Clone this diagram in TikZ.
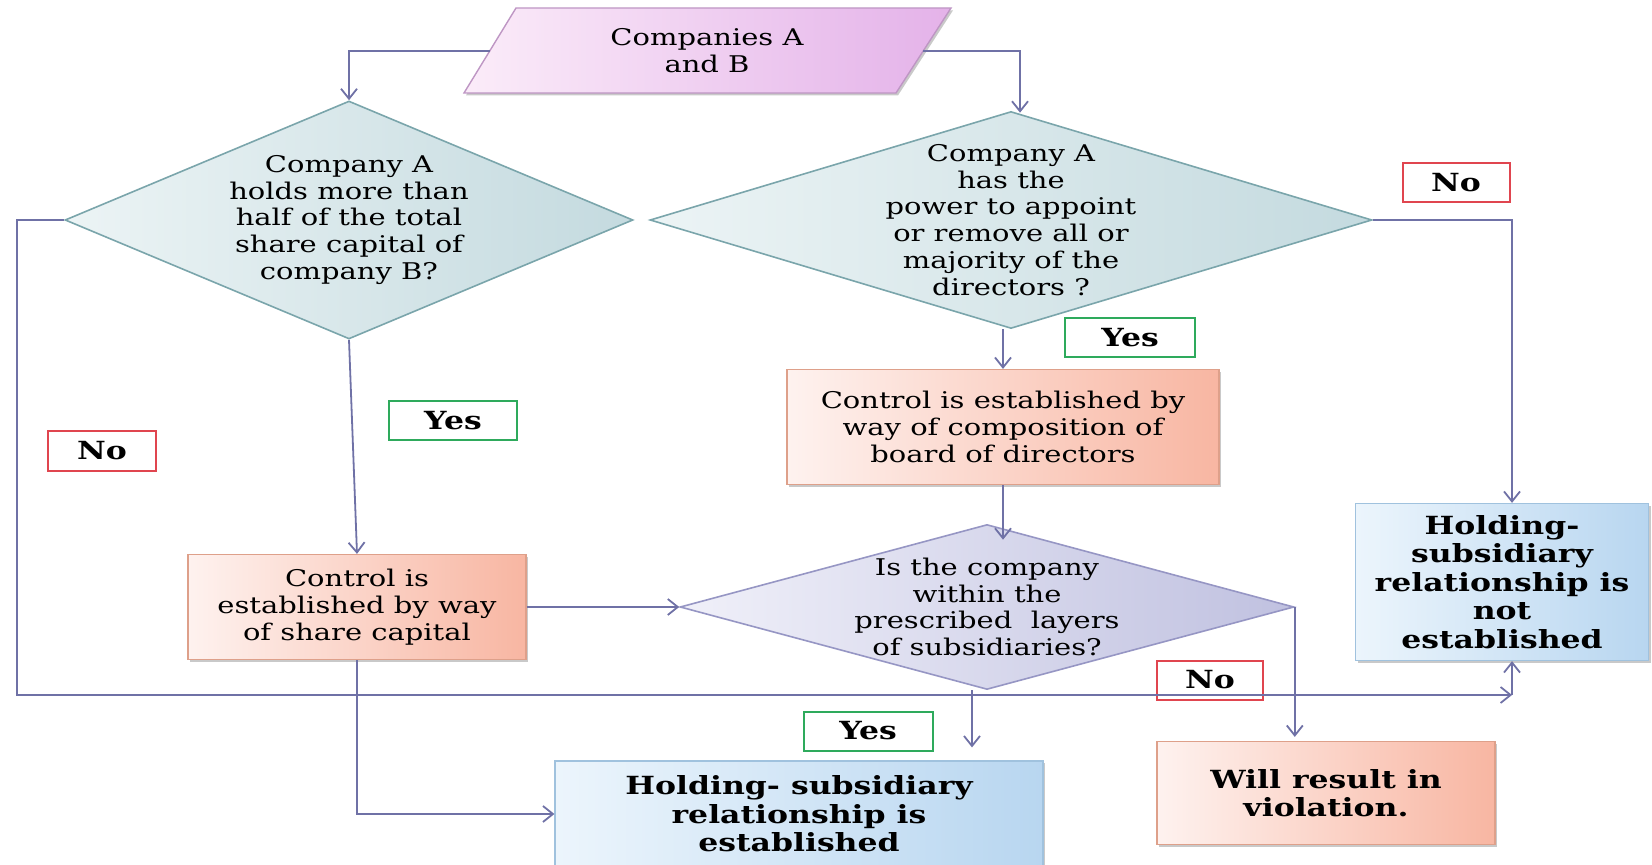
\documentclass[tikz,border=0pt]{standalone}
\usepackage{fontspec}
\setmainfont{DejaVu Serif}[FakeStretch=1.26]
\usetikzlibrary{shapes.geometric,arrows.meta,shadows}

\definecolor{linkc}{RGB}{111,113,166}
\definecolor{parl}{RGB}{251,236,249}
\definecolor{parr}{RGB}{228,178,233}
\definecolor{parb}{RGB}{190,150,196}
\definecolor{qleft}{RGB}{236,244,245}
\definecolor{qright}{RGB}{196,218,223}
\definecolor{qbord}{RGB}{122,165,171}
\definecolor{lleft}{RGB}{240,240,249}
\definecolor{lright}{RGB}{192,193,224}
\definecolor{lbord}{RGB}{150,150,196}
\definecolor{oleft}{RGB}{254,242,239}
\definecolor{oright}{RGB}{248,182,162}
\definecolor{obord}{RGB}{222,160,138}
\definecolor{bleft}{RGB}{236,245,252}
\definecolor{bright}{RGB}{184,214,240}
\definecolor{bbord}{RGB}{160,194,222}
\definecolor{yesc}{RGB}{46,170,92}
\definecolor{noc}{RGB}{224,69,79}

\begin{document}
\begin{tikzpicture}[x=0.5pt,y=-0.5pt,
  txt/.style={font=\fontsize{11.5}{13.4}\selectfont, align=center},
  btxt/.style={font=\fontsize{12.5}{14.3}\selectfont\bfseries, align=center},
  softshadow/.style={drop shadow={shadow xshift=1pt, shadow yshift=-1.2pt, opacity=0.3, fill=black!70}},
  query/.style={diamond, draw=qbord, line width=0.8pt, left color=qleft, right color=qright,
    inner xsep=0pt, inner ysep=-5pt, txt},
  layerq/.style={diamond, draw=lbord, line width=0.8pt, left color=lleft, right color=lright,
    inner xsep=0pt, inner ysep=-5pt, txt},
  orangebox/.style={rectangle, draw=obord, line width=0.6pt, left color=oleft, right color=oright,
    softshadow, inner sep=0pt},
  bluebox/.style={rectangle, draw=bbord, line width=0.6pt, left color=bleft, right color=bright,
    softshadow, inner sep=0pt, btxt},
  yeslbl/.style={rectangle, draw=yesc, line width=1pt, fill=white, inner sep=0pt,
    minimum height=19.5pt, btxt},
  nolbl/.style={rectangle, draw=noc, line width=1pt, fill=white, inner sep=0pt,
    minimum height=19.5pt, btxt},
  arr/.style={draw=linkc, line width=0.9pt, -{Straight Barb[length=5pt,width=8pt]}},
  link/.style={draw=linkc, line width=0.9pt}
]
\useasboundingbox (0,0) rectangle (1652,865);

% start symbol
\path[draw=parb, line width=0.7pt, left color=parl, right color=parr, softshadow]
  (516,8) -- (951,8) -- (896,93) -- (464,93) -- cycle;
\node[txt] (par) at (707,51) {Companies A\\and B};
\coordinate (parL) at (490,51);
\coordinate (parR) at (923,51);

% decisions
\node[query, aspect=2.39, minimum width=284pt, minimum height=119pt] (d1) at (349,220)
  {Company A\\holds more than\\half of the total\\share capital of\\company B?};
\node[query, aspect=3.33, minimum width=361pt, minimum height=108.5pt] (d2) at (1011,220)
  {Company A\\has the\\power to appoint\\or remove all or\\majority of the\\directors ?};
\node[layerq, aspect=3.72, minimum width=307pt, minimum height=82.5pt] (d3) at (987,607)
  {Is the company\\within the\\prescribed~ layers\\of subsidiaries?};

% process boxes
\node[orangebox, txt, minimum width=169pt, minimum height=52.5pt] (b1) at (357,607)
  {Control is\\established by way\\of share capital};
\node[orangebox, txt, minimum width=216pt, minimum height=57.5pt] (b2) at (1003,427)
  {Control is established by\\way of composition of\\board of directors};
\node[bluebox, minimum width=244pt, minimum height=53pt] (b3) at (799,814)
  {Holding- subsidiary\\relationship is\\established};
\node[bluebox, minimum width=146.5pt, minimum height=78.5pt] (b4) at (1502,582)
  {Holding-\\subsidiary\\relationship is\\not\\established};
\node[orangebox, btxt, minimum width=169pt, minimum height=51.5pt] (b5) at (1326,793)
  {Will result in\\violation.};

% answer labels
\node[yeslbl, minimum width=64pt] (yes1) at (453,421) {Yes};
\node[nolbl, minimum width=54pt] (no1) at (102,451) {No};
\node[yeslbl, minimum width=65pt] (yes2) at (1130,338) {Yes};
\node[nolbl, minimum width=53.5pt] (no2) at (1456,183) {No};
\node[yeslbl, minimum width=64.5pt] (yes3) at (868,731) {Yes};
\node[nolbl, minimum width=53pt] (no3) at (1210,680) {No};

% connectors
\draw[arr] (parL) -| (d1.north);
\draw[arr] (parR) -| ([xshift=4.5pt,yshift=-1pt]d2.north);
\draw[arr] (d1.south) -- (b1.north);
\draw[arr] (d2.south -| b2.north) -- (b2.north);
\draw[arr] (d2.east) -| ([xshift=5pt]b4.north);
\draw[arr] (b1.east) -- (d3.west);
\draw[arr, shorten >=-8pt] (b2.south) -- (b2.south |- d3.north);
\draw[arr, shorten >=6.5pt] ([xshift=-7.5pt]d3.south) -- ([xshift=-7.5pt]d3.south |- b3.north);
\draw[arr, shorten >=2pt] (d3.east) -- (d3.east |- b5.north);
\draw[arr] (b1.south) |- (b3.west);
\coordinate (nojoin) at (1512,695);
\draw[arr] (d1.west) -- ++(-47,0) |- (nojoin);
\draw[arr] (nojoin) -- ([xshift=5pt]b4.south);
\end{tikzpicture}
\end{document}
